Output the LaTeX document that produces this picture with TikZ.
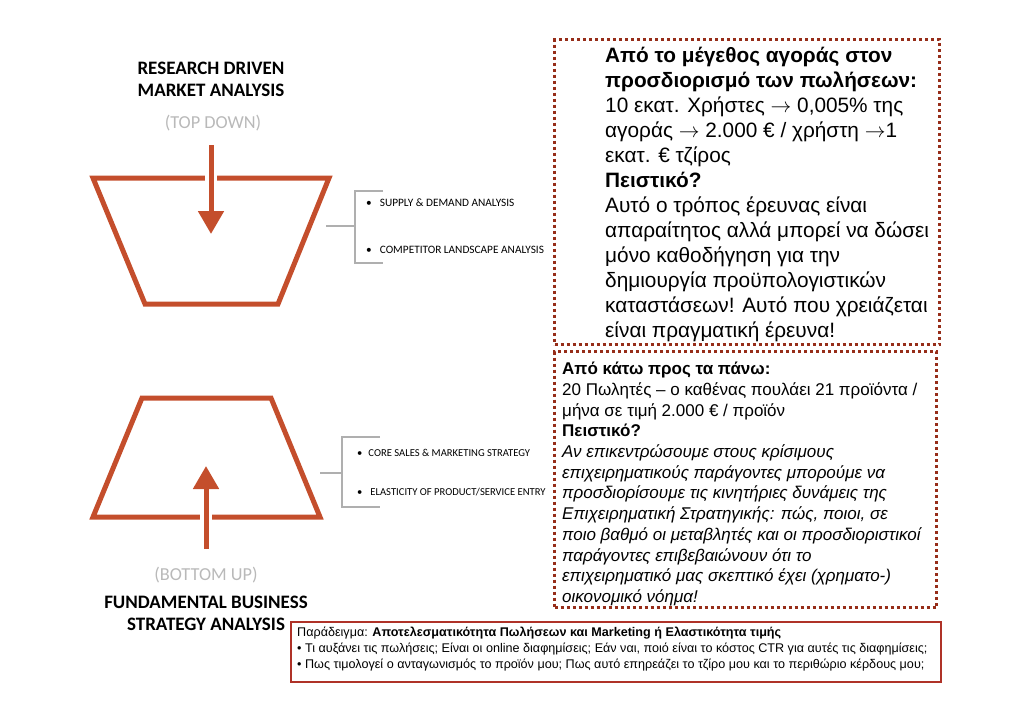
\documentclass[tikz,border=0pt]{standalone}
\usepackage{fontspec}
\setmainfont{Liberation Sans}
\newfontfamily\calfont{Carlito}
\usetikzlibrary{arrows.meta,positioning}
\definecolor{rust}{RGB}{196,78,44}
\definecolor{maroon}{RGB}{150,45,25}
\definecolor{boxred}{RGB}{175,50,40}
\definecolor{fog}{RGB}{185,185,185}
\definecolor{rule}{RGB}{175,175,175}
\newcommand{\goesto}{$\rightarrow$}
\tikzset{
  >={Triangle[width=25pt,length=23pt]},
  funnel/.style={draw=rust,line width=5pt,line join=miter},
  flow/.style={->,draw=rust,fill=rust,line width=5pt},
  gap/.style={draw=white,line width=12pt},
  heading/.style={font=\calfont\bfseries\fontsize{19}{22}\selectfont,align=center},
  direction/.style={font=\calfont\fontsize{18.3}{20}\selectfont,text=fog},
  bracket/.style={draw=rule,line width=1.2pt},
  item/.style={font=\calfont\fontsize{#1}{13}\selectfont,anchor=west,inner sep=0pt},
  item/.default=11.3,
  dotbox/.style={draw=maroon,line width=3pt,dash pattern=on 3pt off 3pt,
    anchor=north west,inner sep=0pt},
  note/.style={align=left,anchor=north west,inner sep=0pt},
}
\begin{document}
\begin{tikzpicture}[x=1pt,y=-1pt]
  \useasboundingbox (0,0) rectangle (1024,724);
  % top down
  \node[heading] (research) at (211,79) {RESEARCH DRIVEN\\MARKET ANALYSIS};
  \node[direction] (topdir) at (213,123) {(TOP DOWN)};
  \draw[funnel] (93,178) -- (329,178) -- (278,304) -- (145,304) -- cycle;
  \coordinate (down start) at (211,145);
  \coordinate (down end) at (211,234);
  \draw[gap] (211,172) -- (211,184);
  \draw[flow] (down start) -- (down end);
  \draw[bracket] (326,226) -- (355,226);
  \draw[bracket] (383,191) -- (355,191) -- (355,263) -- (383,263);
  \node[item] (supply) at (366,203) {•\hspace{8pt}SUPPLY \& DEMAND ANALYSIS};
  \node[item] (competitor) at (366,250) {•\hspace{8pt}COMPETITOR LANDSCAPE ANALYSIS};
  % bottom up
  \draw[funnel] (142,398) -- (271,398) -- (320,517) -- (93,517) -- cycle;
  \coordinate (up start) at (206,549);
  \coordinate (up end) at (206,466);
  \draw[gap] (206,511) -- (206,523);
  \draw[flow] (up start) -- (up end);
  \draw[bracket] (320,473) -- (342,473);
  \draw[bracket] (380,437) -- (342,437) -- (342,507) -- (380,507);
  \node[item=10.6] (core) at (357,453) {•\hspace{6pt}CORE SALES \& MARKETING STRATEGY};
  \node[item=10.6] (elasticity) at (357,492) {•\hspace{8pt}ELASTICITY OF PRODUCT/SERVICE ENTRY};
  \node[direction] (botdir) at (206,575) {(BOTTOM UP)};
  \node[heading] (fundamental) at (206,613) {FUNDAMENTAL BUSINESS\\STRATEGY ANALYSIS};
  % comment boxes
  \node[dotbox,minimum width=385pt,minimum height=305pt] (topframe) at (553,38) {};
  \node[note,font=\fontsize{20.8}{25}\selectfont] (toptext) at (605,47)
    {\textbf{Από το μέγεθος αγοράς στον}\\
     \textbf{προσδιορισμό των πωλήσεων:}\\
     10 εκατ. Χρήστες \goesto{} 0,005\% της\\
     αγοράς \goesto{} 2.000 € / χρήστη \goesto1\\
     εκατ. € τζίρος\\
     \textbf{Πειστικό?}\\
     Αυτό ο τρόπος έρευνας είναι\\
     απαραίτητος αλλά μπορεί να δώσει\\
     μόνο καθοδήγηση για την\\
     δημιουργία προϋπολογιστικών\\
     καταστάσεων! Αυτό που χρειάζεται\\
     είναι πραγματική έρευνα!};
  \node[dotbox,minimum width=382pt,minimum height=256pt] (botframe) at (553,350) {};
  \node[note,font=\fontsize{17}{20.7}\selectfont] (bottext) at (562,362)
    {\textbf{Από κάτω προς τα πάνω:}\\
     20 Πωλητές – ο καθένας πουλάει 21 προϊόντα /\\
     μήνα σε τιμή 2.000 € / προϊόν\\
     \textbf{Πειστικό?}\\
     \textit{Αν επικεντρώσουμε στους κρίσιμους}\\
     \textit{επιχειρηματικούς παράγοντες μπορούμε να}\\
     \textit{προσδιορίσουμε τις κινητήριες δυνάμεις της}\\
     \textit{Επιχειρηματική Στρατηγικής: πώς, ποιοι, σε}\\
     \textit{ποιο βαθμό οι μεταβλητές και οι προσδιοριστικοί}\\
     \textit{παράγοντες επιβεβαιώνουν ότι το}\\
     \textit{επιχειρηματικό μας σκεπτικό έχει (χρηματο-)}\\
     \textit{οικονομικό νόημα!}};
  \node[draw=boxred,line width=1.5pt,anchor=north west,inner sep=0pt,
    minimum width=650pt,minimum height=60pt] (example) at (290,621) {};
  \node[note,font=\fontsize{12.6}{16}\selectfont] (exampletext) at (297,627)
    {Παράδειγμα: \textbf{Αποτελεσματικότητα Πωλήσεων και Marketing ή Ελαστικότητα τιμής}\\
     • Τι αυξάνει τις πωλήσεις; Είναι οι online διαφημίσεις; Εάν ναι, ποιό είναι το κόστος CTR για αυτές τις διαφημίσεις;\\
     • Πως τιμολογεί ο ανταγωνισμός το προϊόν μου; Πως αυτό επηρεάζει το τζίρο μου και το περιθώριο κέρδους μου;};
\end{tikzpicture}
\end{document}
